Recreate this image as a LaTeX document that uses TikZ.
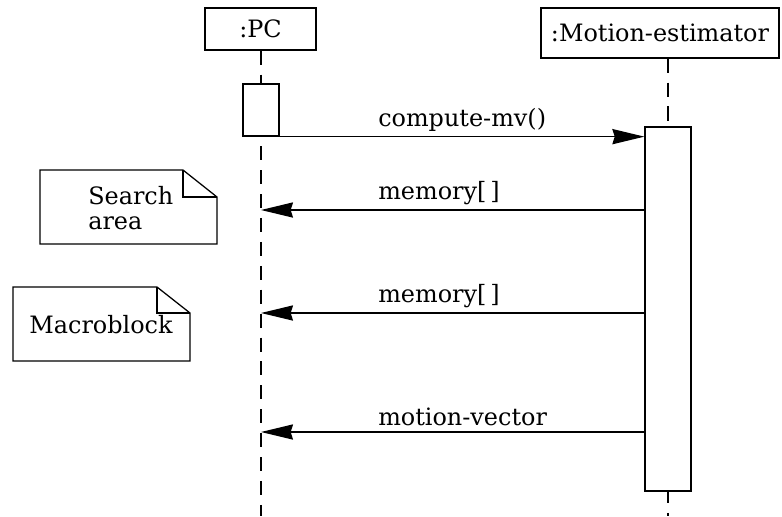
\documentclass[tikz,border=0pt]{standalone}
\usepackage{fontspec}
\setmainfont{DejaVu Serif}
\usetikzlibrary{arrows.meta}

\begin{document}
\begin{tikzpicture}[
    x=0.025cm, y=-0.025cm,
    font=\fontsize{17}{18}\selectfont,
    objbox/.style={rectangle, draw, line width=0.9pt, fill=white, inner sep=0pt},
    actbox/.style={rectangle, draw, line width=0.9pt, fill=white, inner sep=0pt},
    lifeline/.style={line width=0.9pt, dash pattern=on 10pt off 7pt},
    msg/.style={-{Stealth[length=8mm, width=3.8mm, inset=0.6mm]}, line width=0.9pt},
    msglabel/.style={anchor=west, inner sep=0pt},
    noteline/.style={line width=0.9pt, line join=miter},
    notetext/.style={align=left, inner sep=0pt}
]
\useasboundingbox (0,0) rectangle (782,516);

% Objects
\node[objbox, minimum width=2.775cm, minimum height=1.05cm] (pc) at (260.5,29) {:PC};
\node[objbox, minimum width=5.95cm, minimum height=1.25cm] (me) at (660,33) {:Motion-estimator};

% Lifelines
\coordinate (pcend) at (261,516);
\coordinate (meend) at (668,516);
\draw[lifeline] (pc.south -| pcend) -- (pcend);
\draw[lifeline] (me.south -| meend) -- (meend);

% Activations
\node[actbox, minimum width=0.9cm, minimum height=1.3cm] (pcact) at (261,110) {};
\node[actbox, minimum width=1.15cm, minimum height=9.1cm] (meact) at (668,309) {};

% Messages
\coordinate (m1) at (0,210);
\coordinate (m2) at (0,313);
\coordinate (m3) at (0,432);
\draw[msg] (pcact.south east) -- (pcact.south east -| meact.west);
\draw[msg] (meact.west |- m1) -- (pcend |- m1);
\draw[msg] (meact.west |- m2) -- (pcend |- m2);
\draw[msg] (meact.west |- m3) -- (pcend |- m3);

\node[msglabel] (l0) at (378,120) {compute-mv()};
\node[msglabel] (l1) at (378,193) {memory[\,]};
\node[msglabel] (l2) at (378,296) {memory[\,]};
\node[msglabel] (l3) at (378,417) {motion-vector};

% Notes
\draw[noteline] (40,170) -- (183,170) -- (217,197) -- (217,244) -- (40,244) -- cycle;
\draw[noteline] (183,170) -- (183,197) -- (217,197);
\node[notetext, anchor=west] (search) at (88,208) {Search\\area};

\draw[noteline] (13,287) -- (157,287) -- (190,313) -- (190,361) -- (13,361) -- cycle;
\draw[noteline] (157,287) -- (157,313) -- (190,313);
\node[notetext] (macro) at (101,325) {Macroblock};

\end{tikzpicture}
\end{document}
